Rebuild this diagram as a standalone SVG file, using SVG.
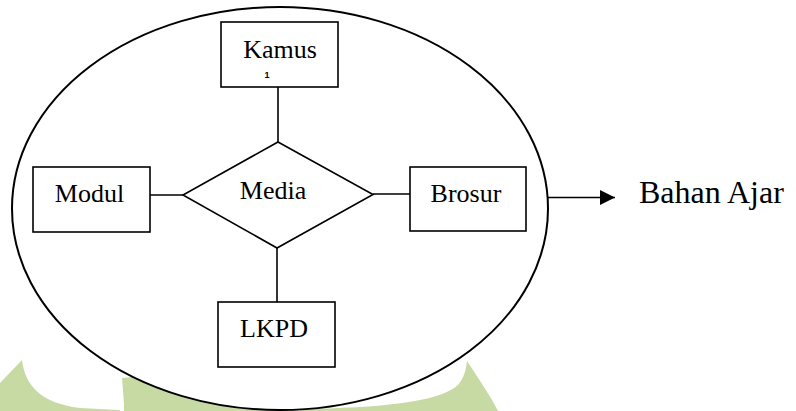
<svg xmlns="http://www.w3.org/2000/svg" width="796" height="411" viewBox="0 0 796 411">
<style>
.box{fill:#fff;stroke:#000;stroke-width:1.6}
.ln{stroke:#000;stroke-width:1.6;fill:none}
.t{font-family:"Liberation Serif","Times New Roman",serif;font-size:26px;fill:#000;text-anchor:middle}
.wm{fill:#c7daa4}
</style>
<defs>
<marker id="ah" viewBox="0 0 10 10" refX="10" refY="5" markerWidth="15" markerHeight="15" markerUnits="userSpaceOnUse" orient="auto">
<path d="M0,0 L10,5 L0,10 Z" fill="#000"/>
</marker>
</defs>
<rect width="796" height="411" fill="#fff"/>
<g id="watermark">
<path class="wm" d="M0,383 L22,360 C25,385 40,403 80,408 L120,410 L120,411 L0,411 Z"/>
<path class="wm" d="M122,378 L200,370 L300,411 L124,411 L124,404 Z"/>
<path class="wm" d="M467,361 C478,378 490,395 498,411 L300,411 L300,409 C380,408 440,402 458,385 C464,378 466,370 467,361 Z"/>
</g>
<g id="scope">
<ellipse cx="280" cy="208.5" rx="268" ry="201.5" fill="#fff" stroke="#000" stroke-width="2"/>
</g>
<g id="connectors">
<line class="ln" x1="278" y1="87" x2="278" y2="142"/>
<line class="ln" x1="150" y1="195" x2="183" y2="195"/>
<line class="ln" x1="373" y1="194" x2="410" y2="194"/>
<line class="ln" x1="277" y1="248" x2="277" y2="302"/>
<line class="ln" x1="548" y1="197.5" x2="615" y2="197.5" stroke-width="2" marker-end="url(#ah)"/>
</g>
<g id="media">
<path class="box" d="M278,142 L373,194.5 L277,248 L183,195 Z"/>
<text class="t" x="273" y="199">Media</text>
</g>
<g id="kamus">
<rect class="box" x="221" y="22" width="117" height="65"/>
<text class="t" x="280" y="58">Kamus</text>
<text x="267" y="78" font-family="Liberation Sans, sans-serif" font-size="9" font-weight="bold" fill="#000" text-anchor="middle">1</text>
</g>
<g id="modul">
<rect class="box" x="33" y="167" width="117" height="65"/>
<text class="t" x="89.5" y="201.5">Modul</text>
</g>
<g id="brosur">
<rect class="box" x="410" y="167" width="116" height="64"/>
<text class="t" x="466" y="202">Brosur</text>
</g>
<g id="lkpd">
<rect class="box" x="218" y="302" width="117" height="65"/>
<text class="t" x="274" y="337" font-size="27">LKPD</text>
</g>
<g id="bahan-ajar">
<text x="639" y="203" font-family="Liberation Serif, Times New Roman, serif" font-size="32" fill="#000">Bahan Ajar</text>
</g>
</svg>
